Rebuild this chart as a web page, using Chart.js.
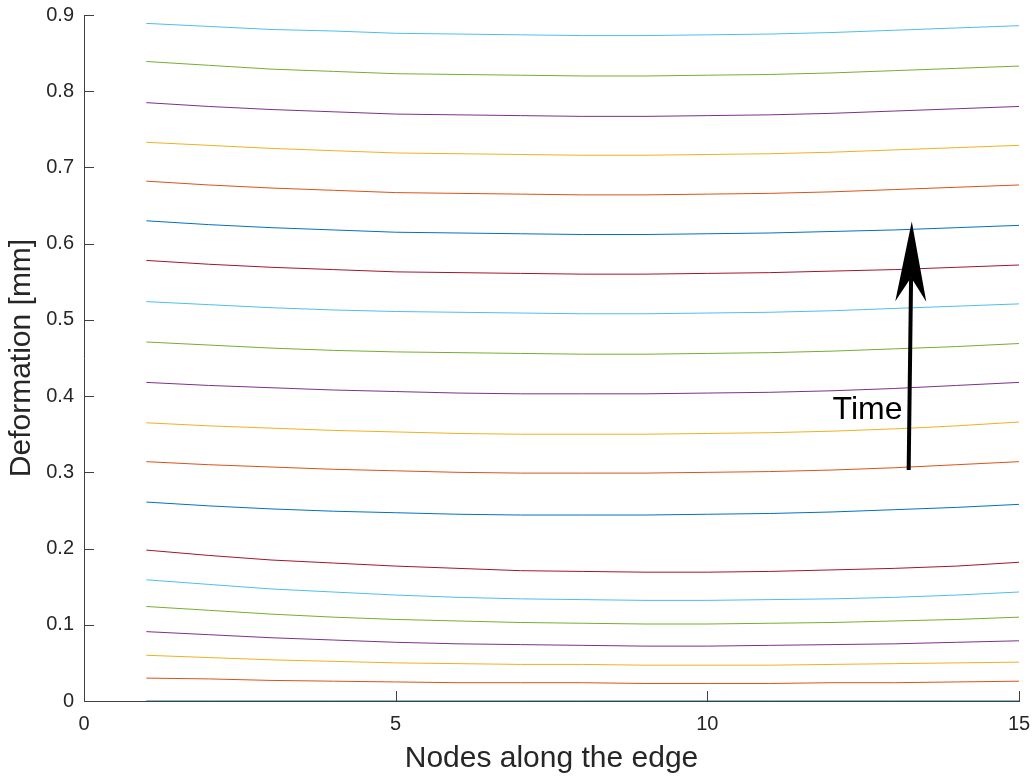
<!DOCTYPE html>
<html>
<head>
<meta charset="utf-8">
<script src="https://cdn.jsdelivr.net/npm/chart.js@4/dist/chart.umd.min.js"></script>
<style>
  html, body { margin: 0; padding: 0; background: #ffffff; }
  #wrap { width: 1034px; height: 777px; }
</style>
</head>
<body>
<div id="wrap"><canvas id="c" width="1034" height="777"></canvas></div>
<script>
// ---- data ----
const nodes = [1,2,3,4,5,6,7,8,9,10,11,12,13,14,15];
const xTicks = [0, 5, 10, 15];
const yTicks = [0, 0.1, 0.2, 0.3, 0.4, 0.5, 0.6, 0.7, 0.8, 0.9];
const xTitle = 'Nodes along the edge';
const yTitle = 'Deformation [mm]';

const step00 = [0,0,0,0,0,0,0,0,0,0,0,0,0,0,0];
const step01 = [0.030,0.029,0.027,0.026,0.025,0.024,0.024,0.024,0.023,0.023,0.023,0.024,0.024,0.025,0.026];
const step02 = [0.060,0.057,0.054,0.052,0.050,0.049,0.048,0.048,0.047,0.047,0.047,0.048,0.049,0.050,0.051];
const step03 = [0.091,0.087,0.083,0.080,0.077,0.075,0.074,0.073,0.072,0.072,0.073,0.074,0.075,0.077,0.079];
const step04 = [0.124,0.119,0.114,0.110,0.107,0.105,0.103,0.102,0.101,0.101,0.102,0.103,0.105,0.107,0.110];
const step05 = [0.159,0.153,0.147,0.143,0.139,0.136,0.134,0.133,0.132,0.132,0.133,0.134,0.136,0.139,0.143];
const step06 = [0.198,0.191,0.185,0.181,0.177,0.174,0.171,0.170,0.169,0.169,0.170,0.172,0.174,0.177,0.182];
const step07 = [0.261,0.256,0.252,0.249,0.247,0.245,0.244,0.244,0.244,0.245,0.246,0.248,0.251,0.254,0.258];
const step08 = [0.314,0.310,0.307,0.304,0.302,0.300,0.299,0.299,0.299,0.300,0.301,0.303,0.306,0.310,0.314];
const step09 = [0.365,0.361,0.358,0.355,0.353,0.351,0.350,0.350,0.350,0.351,0.352,0.354,0.357,0.361,0.366];
const step10 = [0.418,0.414,0.411,0.408,0.406,0.404,0.403,0.403,0.403,0.404,0.405,0.407,0.410,0.414,0.418];
const step11 = [0.471,0.467,0.463,0.460,0.458,0.457,0.456,0.455,0.455,0.456,0.457,0.459,0.462,0.465,0.469];
const step12 = [0.524,0.520,0.516,0.513,0.511,0.510,0.509,0.508,0.508,0.509,0.510,0.512,0.515,0.518,0.521];
const step13 = [0.578,0.573,0.569,0.566,0.563,0.562,0.561,0.560,0.560,0.561,0.562,0.564,0.566,0.569,0.572];
const step14 = [0.630,0.625,0.621,0.618,0.615,0.614,0.613,0.612,0.612,0.613,0.614,0.616,0.618,0.621,0.624];
const step15 = [0.682,0.677,0.673,0.670,0.667,0.666,0.665,0.664,0.664,0.665,0.666,0.668,0.671,0.674,0.677];
const step16 = [0.733,0.729,0.725,0.722,0.719,0.718,0.717,0.716,0.716,0.717,0.718,0.720,0.723,0.726,0.729];
const step17 = [0.785,0.780,0.776,0.773,0.770,0.769,0.768,0.767,0.767,0.768,0.769,0.771,0.774,0.777,0.780];
const step18 = [0.839,0.834,0.829,0.826,0.823,0.822,0.821,0.820,0.820,0.821,0.822,0.824,0.827,0.830,0.833];
const step19 = [0.889,0.885,0.881,0.879,0.876,0.875,0.874,0.873,0.873,0.874,0.875,0.877,0.880,0.883,0.886];

// annotation (arrow "Time"), in data coordinates
const arrowFrom = [13.23, 0.303];
const arrowTo = [13.28, 0.629];
const arrowLabel = 'Time';
const arrowLabelAt = [12.57, 0.382];

// ---- styles ----
const palette = ['#0072BD','#D95319','#EDB120','#7E2F8E','#77AC30','#4DBEEE','#A2142F'];
const FONT = '"Liberation Sans", Arial, Helvetica, sans-serif';
const TXT = '#262626';
const AXIS = '#404040';

const allSteps = [step00,step01,step02,step03,step04,step05,step06,step07,step08,step09,
                  step10,step11,step12,step13,step14,step15,step16,step17,step18,step19];

const datasets = allSteps.map((arr, i) => ({
  label: 'step ' + i,
  data: arr.map((v, k) => ({x: nodes[k], y: v})),
  borderColor: palette[i % palette.length],
  backgroundColor: palette[i % palette.length],
  borderWidth: 1,
  pointRadius: 0,
  tension: 0,
  fill: false
}));

const extrasPlugin = {
  id: 'extras',
  afterDraw(chart) {
    const ctx = chart.ctx;
    const xs = chart.scales.x, ys = chart.scales.y;
    const ca = chart.chartArea;
    ctx.save();
    // inward ticks
    ctx.strokeStyle = AXIS;
    ctx.lineWidth = 1;
    ctx.beginPath();
    xTicks.forEach(t => {
      const px = Math.round(xs.getPixelForValue(t)) + 0.5;
      ctx.moveTo(px, ca.bottom);
      ctx.lineTo(px, ca.bottom - 10);
    });
    yTicks.forEach(t => {
      const py = Math.round(ys.getPixelForValue(t)) + 0.5;
      ctx.moveTo(ca.left, py);
      ctx.lineTo(ca.left + 10, py);
    });
    ctx.stroke();

    // arrow
    const x0 = xs.getPixelForValue(arrowFrom[0]), y0 = ys.getPixelForValue(arrowFrom[1]);
    const x1 = xs.getPixelForValue(arrowTo[0]), y1 = ys.getPixelForValue(arrowTo[1]);
    const dx = x1 - x0, dy = y1 - y0;
    const len = Math.hypot(dx, dy);
    const ux = dx / len, uy = dy / len;
    const nx = -uy, ny = ux;
    const headLen = 80, headHalf = 15.5, notch = 24;
    ctx.strokeStyle = '#000';
    ctx.fillStyle = '#000';
    ctx.lineWidth = 4;
    ctx.beginPath();
    ctx.moveTo(x0, y0);
    ctx.lineTo(x1 - ux * (headLen - notch), y1 - uy * (headLen - notch));
    ctx.stroke();
    const bx = x1 - ux * headLen, by = y1 - uy * headLen;
    ctx.beginPath();
    ctx.moveTo(x1, y1);
    ctx.lineTo(bx + nx * headHalf, by + ny * headHalf);
    ctx.lineTo(x1 - ux * (headLen - notch), y1 - uy * (headLen - notch));
    ctx.lineTo(bx - nx * headHalf, by - ny * headHalf);
    ctx.closePath();
    ctx.fill();

    // label
    ctx.font = '32px ' + FONT;
    ctx.textAlign = 'center';
    ctx.textBaseline = 'middle';
    ctx.fillText(arrowLabel, xs.getPixelForValue(arrowLabelAt[0]), ys.getPixelForValue(arrowLabelAt[1]));
    ctx.restore();
  }
};

new Chart(document.getElementById('c'), {
  type: 'line',
  data: { datasets },
  options: {
    responsive: false,
    animation: false,
    events: [],
    layout: { padding: { left: 0, right: 15, top: 15, bottom: 0 } },
    plugins: { legend: { display: false }, tooltip: { enabled: false } },
    scales: {
      x: {
        type: 'linear',
        min: 0, max: 15,
        afterFit(s) { s.height = 76; s.paddingLeft = 0; s.paddingRight = 0; },
        afterBuildTicks(s) { s.ticks = xTicks.map(v => ({value: v})); },
        grid: { display: false, drawTicks: false },
        border: { display: true, color: AXIS, width: 1 },
        ticks: { color: TXT, font: { family: FONT, size: 20 }, padding: 11, maxRotation: 0 },
        title: { display: true, text: xTitle, color: TXT, font: { family: FONT, size: 30 }, padding: { top: 0, bottom: 0 } }
      },
      y: {
        type: 'linear',
        min: 0, max: 0.9,
        afterFit(s) { s.width = 84; s.paddingTop = 0; s.paddingBottom = 0; },
        afterBuildTicks(s) { s.ticks = yTicks.map(v => ({value: v})); },
        grid: { display: false, drawTicks: false },
        border: { display: true, color: AXIS, width: 1 },
        ticks: { color: TXT, font: { family: FONT, size: 20 }, padding: 10,
                 callback: v => (Math.round(v * 10) / 10).toString() },
        title: { display: true, text: yTitle, color: TXT, font: { family: FONT, size: 30 }, padding: { top: 4, bottom: 0 } }
      }
    }
  },
  plugins: [extrasPlugin]
});
</script>
</body>
</html>
